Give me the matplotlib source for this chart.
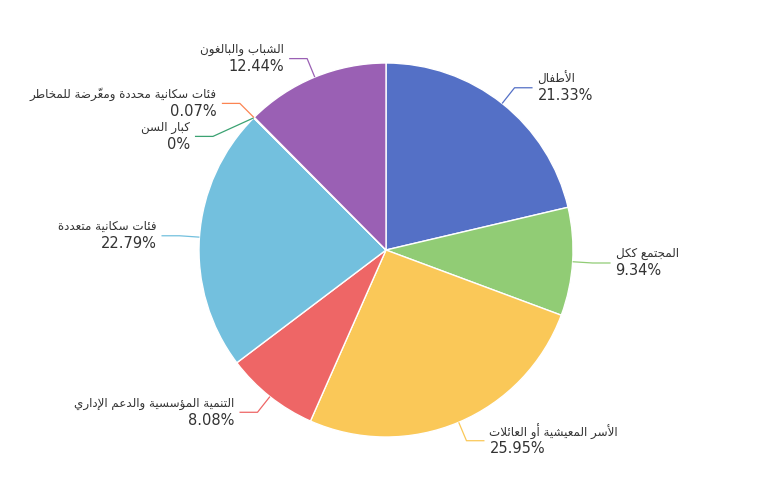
import numpy as np
import matplotlib
matplotlib.use('Agg')
import matplotlib.pyplot as plt

# data (clockwise from the top)
names = ['الأطفال', 'المجتمع ككل', 'الأسر المعيشية أو العائلات',
         'التنمية المؤسسية والدعم الإداري', 'فئات سكانية متعددة', 'كبار السن',
         'فئات سكانية محددة ومعرّضة للمخاطر', 'الشباب والبالغون']
values = [21.33, 9.34, 25.95, 8.08, 22.79, 0, 0.07, 12.44]
colors = ['#5470c6', '#91cc75', '#fac858', '#ee6666', '#73c0de', '#3ba272', '#fc8452', '#9a60b4']

# small arabic shaper: matplotlib has no shaping / bidi of its own
FORMS = {'ا': 0xFE8D, 'أ': 0xFE83, 'إ': 0xFE87, 'آ': 0xFE81, 'ب': 0xFE8F, 'ة': 0xFE93,
         'ت': 0xFE95, 'ث': 0xFE99, 'ج': 0xFE9D, 'ح': 0xFEA1, 'خ': 0xFEA5, 'د': 0xFEA9,
         'ذ': 0xFEAB, 'ر': 0xFEAD, 'ز': 0xFEAF, 'س': 0xFEB1, 'ش': 0xFEB5, 'ص': 0xFEB9,
         'ض': 0xFEBD, 'ط': 0xFEC1, 'ظ': 0xFEC5, 'ع': 0xFEC9, 'غ': 0xFECD, 'ف': 0xFED1,
         'ق': 0xFED5, 'ك': 0xFED9, 'ل': 0xFEDD, 'م': 0xFEE1, 'ن': 0xFEE5, 'ه': 0xFEE9,
         'و': 0xFEED, 'ؤ': 0xFE85, 'ي': 0xFEF1, 'ئ': 0xFE89}
DUAL = set('بتثجحخسشصضطظعغفقكلمنهيئ')
LAMALEF = {'ا': 0xFEFB, 'أ': 0xFEF7, 'إ': 0xFEF9, 'آ': 0xFEF5}


def is_mark(c):
    return 0x064B <= ord(c) <= 0x0652


def shape(s):
    n = len(s)
    out = []
    prev_dual = False
    i = 0
    while i < n:
        c = s[i]
        if is_mark(c):
            out[-1] += c
            i += 1
            continue
        if c not in FORMS:
            out.append(c)
            prev_dual = False
            i += 1
            continue
        j = i + 1
        while j < n and is_mark(s[j]):
            j += 1
        nxt = s[j] if j < n else None
        if c == 'ل' and nxt in LAMALEF:
            out.append(chr(LAMALEF[nxt] + (1 if prev_dual else 0)))
            prev_dual = False
            i = j + 1
            continue
        base = FORMS[c]
        dual = c in DUAL
        join_next = dual and nxt in FORMS
        if prev_dual and join_next:
            code = base + 3
        elif prev_dual:
            code = base + 1
        elif join_next:
            code = base + 2
        else:
            code = base
        out.append(chr(code))
        prev_dual = dual
        i += 1
    return ''.join(reversed(out))


W, H = 772, 500
fig = plt.figure(figsize=(W / 100, H / 100), dpi=100)
ax = fig.add_axes([0, 0, 1, 1])

cx, cy, r = 386, 250, 187
wedges, _ = ax.pie(values, colors=colors, startangle=90, counterclock=False,
                   center=(cx, cy), radius=r,
                   wedgeprops=dict(edgecolor='white', linewidth=1))
ax.set_xlim(0, W)
ax.set_ylim(0, H)
ax.set_aspect('equal')
ax.axis('off')

len1, len2, gap = 20, 18, 5
labels = []
for w, name, v, col in zip(wedges, names, values, colors):
    t = np.deg2rad((w.theta1 + w.theta2) / 2)
    ex, ey = cx + r * np.cos(t), cy + r * np.sin(t)
    bx, by = cx + (r + len1) * np.cos(t), cy + (r + len1) * np.sin(t)
    labels.append(dict(name=name, v=v, col=col, ex=ex, ey=ey, bx=bx, by=by,
                       right=np.cos(t) >= 0))

# push overlapping labels apart (per side, top to bottom)
min_sep = 33
for side in (True, False):
    grp = sorted([l for l in labels if l['right'] == side], key=lambda l: -l['by'])
    for a, b in zip(grp, grp[1:]):
        if a['by'] - b['by'] < min_sep:
            b['by'] = a['by'] - min_sep
            dy = b['by'] - cy
            dx = np.sqrt(max((r + len1) ** 2 - dy ** 2, 0))
            b['bx'] = cx + dx if side else cx - dx

for l in labels:
    sgn = 1 if l['right'] else -1
    hx = l['bx'] + sgn * len2
    ax.plot([l['ex'], l['bx'], hx], [l['ey'], l['by'], l['by']],
            color=l['col'], lw=0.9, solid_capstyle='butt')
    tx = hx + sgn * gap
    ha = 'left' if l['right'] else 'right'
    ax.text(tx, l['by'] + 9, shape(l['name']), ha=ha, va='center',
            fontsize=8.6, color='#333333', family='DejaVu Sans')
    ax.text(tx, l['by'] - 8, f"{l['v']:g}%", ha=ha, va='center',
            fontsize=10.5, color='#333333')

fig.savefig('out.png', dpi=100)
